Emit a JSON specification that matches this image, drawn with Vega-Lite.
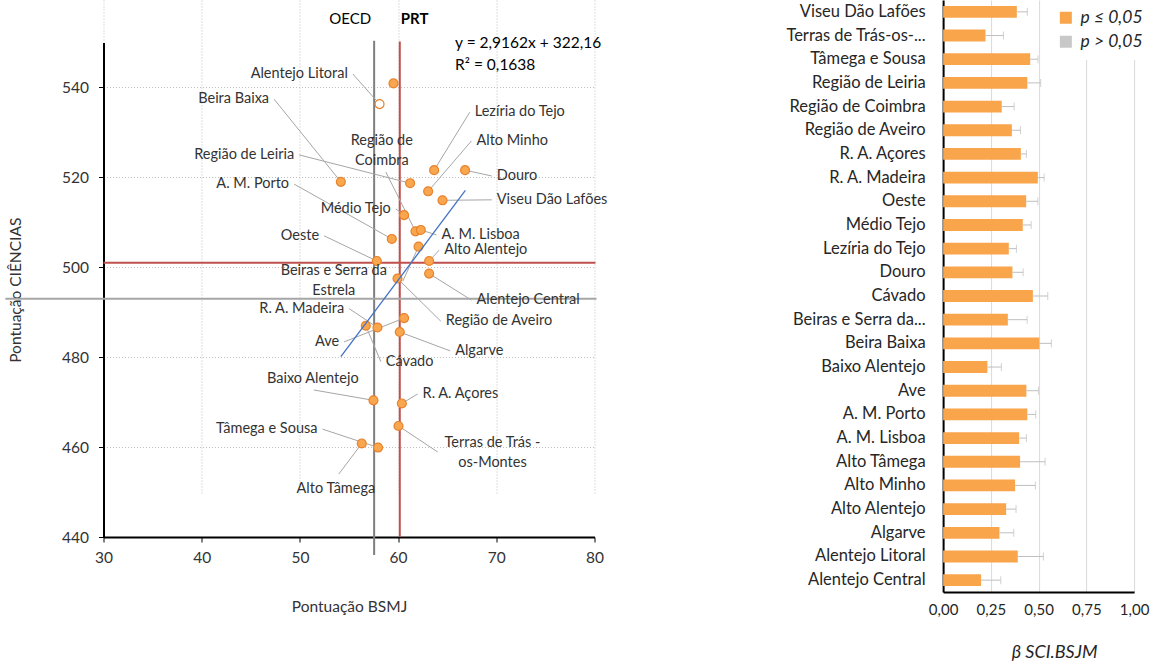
{
  "$schema": "https://vega.github.io/schema/vega-lite/v6.json",
  "padding": {"left": 3.5, "top": 0, "right": 0, "bottom": 0},
  "bounds": "flush",
  "spacing": 348.6,
  "resolve": {"scale": {"color": "independent", "fill": "independent"}, "legend": {"color": "independent", "fill": "independent"}},
  "config": {
    "font": "Lato",
    "view": {"stroke": null},
    "axis": {"labelFont": "Lato", "titleFont": "Lato", "titleFontWeight": "normal", "labelColor": "#333333", "titleColor": "#333333", "domainColor": "#000000", "tickColor": "#000000"}
  },
  "datasets": {
    "refs": [
      {"ref": "OECD_v", "x": 57.56, "x2": 57.56, "y": 550.4, "y2": 436},
      {"ref": "PRT_v", "x": 60.17, "x2": 60.17, "y": 550.2, "y2": 440},
      {"ref": "PRT_h", "x": 30, "x2": 80.1, "y": 501, "y2": 501},
      {"ref": "OECD_h", "x": 20, "x2": 80.2, "y": 493, "y2": 493}
    ],
    "trend": [
      {"x": 54.17, "y": 480.1},
      {"x": 66.85, "y": 517.1}
    ],
    "pts": [
      {"name": "", "x": 59.53, "y": 540.9, "series": "filled"},
      {"name": "Alentejo Litoral", "x": 58.11, "y": 536.3, "series": "open", "side": "R", "ex": 55.39, "ey": 543.0},
      {"name": "Lezíria do Tejo", "x": 63.67, "y": 521.6, "series": "filled", "side": "L", "ex": 67.30, "ey": 534.5},
      {"name": "Douro", "x": 66.82, "y": 521.6, "series": "filled", "side": "L", "ex": 69.54, "ey": 520.3},
      {"name": "Beira Baixa", "x": 54.17, "y": 519.0, "series": "filled", "side": "R", "ex": 47.37, "ey": 537.4},
      {"name": "Região de Leiria", "x": 61.22, "y": 518.7, "series": "filled", "side": "R", "ex": 49.92, "ey": 525.0},
      {"name": "Alto Minho", "x": 63.06, "y": 516.9, "series": "filled", "side": "L", "ex": 67.47, "ey": 528.1},
      {"name": "Viseu Dão Lafões", "x": 64.52, "y": 514.9, "series": "filled", "side": "L", "ex": 69.54, "ey": 515.0},
      {"name": "Médio Tejo", "x": 60.61, "y": 511.6, "series": "filled", "side": "R", "ex": 59.77, "ey": 513.0},
      {"name": "Região de Coimbra", "x": 61.77, "y": 508.0, "series": "filled", "side": "C", "ex": 58.75, "ey": 521.2, "tx": 58.34, "ty": 528.1, "label": "Região de\nCoimbra"},
      {"name": "A. M. Lisboa", "x": 62.31, "y": 508.3, "series": "filled", "side": "L", "ex": 63.91, "ey": 507.2},
      {"name": "A. M. Porto", "x": 59.36, "y": 506.3, "series": "filled", "side": "R", "ex": 49.41, "ey": 518.5},
      {"name": "Beiras e Serra da Estrela", "x": 62.08, "y": 504.6, "series": "filled", "side": "C", "ex": 60.48, "ey": 496.9, "tx": 53.45, "ty": 499.2, "label": "Beiras e Serra da\nEstrela"},
      {"name": "Oeste", "x": 57.83, "y": 501.4, "series": "filled", "side": "R", "ex": 52.46, "ey": 507.0},
      {"name": "Alto Alentejo", "x": 63.16, "y": 501.4, "series": "filled", "side": "L", "ex": 64.18, "ey": 503.8},
      {"name": "Região de Aveiro", "x": 59.94, "y": 497.5, "series": "filled", "side": "L", "ex": 64.35, "ey": 488.0},
      {"name": "Alentejo Central", "x": 63.16, "y": 498.6, "series": "filled", "side": "L", "ex": 67.47, "ey": 492.7},
      {"name": "Ave", "x": 60.61, "y": 488.7, "series": "filled", "side": "R", "ex": 54.50, "ey": 483.4},
      {"name": "Cávado", "x": 56.71, "y": 487.0, "series": "filled", "side": "L", "ex": 58.24, "ey": 479.0},
      {"name": "R. A. Madeira", "x": 57.90, "y": 486.6, "series": "filled", "side": "R", "ex": 55.01, "ey": 490.8},
      {"name": "Algarve", "x": 60.17, "y": 485.6, "series": "filled", "side": "L", "ex": 65.30, "ey": 481.4},
      {"name": "Baixo Alentejo", "x": 57.49, "y": 470.4, "series": "filled", "side": "C", "ex": 51.42, "ey": 472.7, "tx": 51.31, "ty": 475.1, "label": "Baixo Alentejo"},
      {"name": "R. A. Açores", "x": 60.38, "y": 469.7, "series": "filled", "side": "L", "ex": 61.98, "ey": 471.8},
      {"name": "Terras de Trás-os-Montes", "x": 60.04, "y": 464.7, "series": "filled", "side": "C", "ex": 64.04, "ey": 458.9, "tx": 69.61, "ty": 461.0, "label": "Terras de Trás -\nos-Montes"},
      {"name": "Alto Tâmega", "x": 56.30, "y": 460.8, "series": "filled", "side": "C", "ex": 53.96, "ey": 454.0, "tx": 53.66, "ty": 450.6, "label": "Alto Tâmega"},
      {"name": "Tâmega e Sousa", "x": 57.96, "y": 459.9, "series": "filled", "side": "R", "ex": 52.30, "ey": 464.0}
    ],
    "eq": [
      {"t": "y = 2,9162x + 322,16", "x": 65.8, "y": 550.0},
      {"t": "R² = 0,1638", "x": 65.8, "y": 545.0}
    ],
    "bars": [
      {"region": "Viseu Dão Lafões", "beta": 0.386, "upper": 0.441, "sig": "p ≤ 0,05"},
      {"region": "Terras de Trás-os-Montes", "beta": 0.222, "upper": 0.316, "sig": "p ≤ 0,05"},
      {"region": "Tâmega e Sousa", "beta": 0.456, "upper": 0.497, "sig": "p ≤ 0,05"},
      {"region": "Região de Leiria", "beta": 0.441, "upper": 0.511, "sig": "p ≤ 0,05"},
      {"region": "Região de Coimbra", "beta": 0.307, "upper": 0.372, "sig": "p ≤ 0,05"},
      {"region": "Região de Aveiro", "beta": 0.360, "upper": 0.405, "sig": "p ≤ 0,05"},
      {"region": "R. A. Açores", "beta": 0.407, "upper": 0.436, "sig": "p ≤ 0,05"},
      {"region": "R. A. Madeira", "beta": 0.496, "upper": 0.529, "sig": "p ≤ 0,05"},
      {"region": "Oeste", "beta": 0.435, "upper": 0.496, "sig": "p ≤ 0,05"},
      {"region": "Médio Tejo", "beta": 0.417, "upper": 0.461, "sig": "p ≤ 0,05"},
      {"region": "Lezíria do Tejo", "beta": 0.344, "upper": 0.384, "sig": "p ≤ 0,05"},
      {"region": "Douro", "beta": 0.363, "upper": 0.419, "sig": "p ≤ 0,05"},
      {"region": "Cávado", "beta": 0.470, "upper": 0.548, "sig": "p ≤ 0,05"},
      {"region": "Beiras e Serra da Estrela", "beta": 0.339, "upper": 0.440, "sig": "p ≤ 0,05"},
      {"region": "Beira Baixa", "beta": 0.504, "upper": 0.567, "sig": "p ≤ 0,05"},
      {"region": "Baixo Alentejo", "beta": 0.232, "upper": 0.305, "sig": "p ≤ 0,05"},
      {"region": "Ave", "beta": 0.436, "upper": 0.499, "sig": "p ≤ 0,05"},
      {"region": "A. M. Porto", "beta": 0.441, "upper": 0.485, "sig": "p ≤ 0,05"},
      {"region": "A. M. Lisboa", "beta": 0.398, "upper": 0.436, "sig": "p ≤ 0,05"},
      {"region": "Alto Tâmega", "beta": 0.403, "upper": 0.534, "sig": "p ≤ 0,05"},
      {"region": "Alto Minho", "beta": 0.377, "upper": 0.483, "sig": "p ≤ 0,05"},
      {"region": "Alto Alentejo", "beta": 0.330, "upper": 0.382, "sig": "p ≤ 0,05"},
      {"region": "Algarve", "beta": 0.295, "upper": 0.370, "sig": "p ≤ 0,05"},
      {"region": "Alentejo Litoral", "beta": 0.391, "upper": 0.525, "sig": "p ≤ 0,05"},
      {"region": "Alentejo Central", "beta": 0.199, "upper": 0.302, "sig": "p ≤ 0,05"}
    ]
  },
  "hconcat": [
    {
      "width": 491,
      "height": 537,
      "layer": [
        {
          "data": {"name": "refs"},
          "mark": {"type": "rule", "strokeWidth": 2},
          "encoding": {
            "x": {"field": "x", "type": "quantitative", "title": "Pontuação BSMJ",
              "scale": {"domain": [30, 80], "nice": false, "zero": false},
              "axis": {"values": [30, 40, 50, 60, 70, 80], "grid": true, "gridColor": "#BFBFBF", "gridDash": [1, 2], "domainWidth": 2, "tickSize": 5, "labelFontSize": 15.5, "labelPadding": 8, "labelFlush": false, "titleFontSize": 15.5, "titlePadding": 34}},
            "x2": {"field": "x2"},
            "y": {"field": "y", "type": "quantitative", "title": "Pontuação CIÊNCIAS",
              "scale": {"domain": [440, 550], "range": [537, 42.5], "nice": false, "zero": false},
              "axis": {"values": [440, 460, 480, 500, 520, 540], "grid": true, "gridColor": "#BFBFBF", "gridDash": [1, 2], "domainWidth": 2, "tickSize": 5, "labelFontSize": 15.5, "labelPadding": 10, "labelFlush": false, "titleFontSize": 15.5, "titlePadding": 38}},
            "y2": {"field": "y2"},
            "color": {"field": "ref", "type": "nominal", "legend": null,
              "scale": {"domain": ["OECD_v", "PRT_v", "PRT_h", "OECD_h"], "range": ["#7F7F7F", "#C0504D", "#C0504D", "#A6A6A6"]}}
          }
        },
        {
          "data": {"name": "pts"},
          "transform": [{"filter": "datum.side != null"}],
          "mark": {"type": "rule", "color": "#A6A6A6", "strokeWidth": 1},
          "encoding": {
            "x": {"field": "ex", "type": "quantitative"},
            "y": {"field": "ey", "type": "quantitative"},
            "x2": {"field": "x"},
            "y2": {"field": "y"}
          }
        },
        {
          "data": {"name": "pts"},
          "mark": {"type": "point", "filled": true, "size": 80, "stroke": "#E9822C", "strokeWidth": 1.2, "opacity": 1},
          "encoding": {
            "x": {"field": "x", "type": "quantitative"},
            "y": {"field": "y", "type": "quantitative"},
            "fill": {"field": "series", "type": "nominal", "legend": null,
              "scale": {"domain": ["filled", "open"], "range": ["#F9A74F", "#FFFFFF"]}}
          }
        },
        {
          "data": {"name": "trend"},
          "mark": {"type": "line", "color": "#4472C4", "strokeWidth": 1.3},
          "encoding": {
            "x": {"field": "x", "type": "quantitative"},
            "y": {"field": "y", "type": "quantitative"}
          }
        },
        {
          "data": {"name": "pts"},
          "transform": [{"filter": "datum.side == 'R'"}],
          "mark": {"type": "text", "align": "right", "baseline": "middle", "dx": -5, "fontSize": 14.5, "color": "#333333"},
          "encoding": {
            "x": {"field": "ex", "type": "quantitative"},
            "y": {"field": "ey", "type": "quantitative"},
            "text": {"field": "name"}
          }
        },
        {
          "data": {"name": "pts"},
          "transform": [{"filter": "datum.side == 'L'"}],
          "mark": {"type": "text", "align": "left", "baseline": "middle", "dx": 5, "fontSize": 14.5, "color": "#333333"},
          "encoding": {
            "x": {"field": "ex", "type": "quantitative"},
            "y": {"field": "ey", "type": "quantitative"},
            "text": {"field": "name"}
          }
        },
        {
          "data": {"name": "pts"},
          "transform": [{"filter": "datum.side == 'C'"}],
          "mark": {"type": "text", "align": "center", "baseline": "middle", "lineBreak": "\n", "lineHeight": 20, "fontSize": 14.5, "color": "#333333"},
          "encoding": {
            "x": {"field": "tx", "type": "quantitative"},
            "y": {"field": "ty", "type": "quantitative"},
            "text": {"field": "label"}
          }
        },
        {
          "data": {"values": [{"t": "OECD", "x": 57.56, "y": 555.3}]},
          "mark": {"type": "text", "align": "right", "baseline": "middle", "dx": -3, "fontSize": 15, "color": "#000000"},
          "encoding": {
            "x": {"field": "x", "type": "quantitative"},
            "y": {"field": "y", "type": "quantitative"},
            "text": {"field": "t"}
          }
        },
        {
          "data": {"values": [{"t": "PRT", "x": 60.17, "y": 555.3}]},
          "mark": {"type": "text", "align": "left", "baseline": "middle", "dx": 1, "fontSize": 15, "fontWeight": "bold", "color": "#000000"},
          "encoding": {
            "x": {"field": "x", "type": "quantitative"},
            "y": {"field": "y", "type": "quantitative"},
            "text": {"field": "t"}
          }
        },
        {
          "data": {"name": "eq"},
          "mark": {"type": "text", "align": "left", "baseline": "middle", "fontSize": 15.5, "color": "#000000"},
          "encoding": {
            "x": {"field": "x", "type": "quantitative"},
            "y": {"field": "y", "type": "quantitative"},
            "text": {"field": "t"}
          }
        }
      ]
    },
    {
      "width": 191,
      "height": 592,
      "data": {"name": "bars"},
      "layer": [
        {
          "mark": {"type": "bar", "opacity": 1},
          "encoding": {
            "y": {"field": "region", "type": "nominal", "sort": null, "title": null,
              "scale": {"paddingInner": 0.5, "paddingOuter": 0.25},
              "axis": {"domain": true, "domainWidth": 2, "ticks": false, "labelPadding": 18, "labelFontSize": 16.5, "labelColor": "#262626", "labelLimit": 300,
                "labelExpr": "datum.label == 'Terras de Trás-os-Montes' ? 'Terras de Trás-os-...' : (datum.label == 'Beiras e Serra da Estrela' ? 'Beiras e Serra da...' : datum.label)"}},
            "x": {"field": "beta", "type": "quantitative", "title": "β SCI.BSJM",
              "scale": {"domain": [0, 1], "nice": false},
              "axis": {"values": [0, 0.25, 0.5, 0.75, 1], "labelExpr": "replace(format(datum.value, '.2f'), '.', ',')", "grid": true, "gridColor": "#D9D9D9", "domainWidth": 2, "ticks": false, "labelPadding": 10, "labelFontSize": 15, "labelColor": "#262626", "labelFlush": false, "titleFontSize": 18, "titleFontStyle": "italic", "titleColor": "#262626", "titlePadding": 26, "titleX": 111}},
            "color": {"field": "sig", "type": "nominal",
              "scale": {"domain": ["p ≤ 0,05", "p > 0,05"], "range": ["#F9A54B", "#C8C8C8"]},
              "legend": {"orient": "none", "legendX": 105, "legendY": 0, "title": null, "symbolType": "square", "symbolSize": 144, "symbolStrokeWidth": 0, "labelFontSize": 17.5, "labelFontStyle": "italic", "labelColor": "#262626", "fillColor": "#FFFFFF", "padding": 9, "rowPadding": 5, "labelOffset": 6}}
          }
        },
        {
          "mark": {"type": "rule", "color": "#BFBFBF", "strokeWidth": 1},
          "encoding": {
            "y": {"field": "region", "type": "nominal", "sort": null},
            "x": {"field": "beta", "type": "quantitative"},
            "x2": {"field": "upper"}
          }
        },
        {
          "mark": {"type": "tick", "color": "#BFBFBF", "thickness": 1, "size": 8},
          "encoding": {
            "y": {"field": "region", "type": "nominal", "sort": null},
            "x": {"field": "upper", "type": "quantitative"}
          }
        }
      ]
    }
  ]
}
